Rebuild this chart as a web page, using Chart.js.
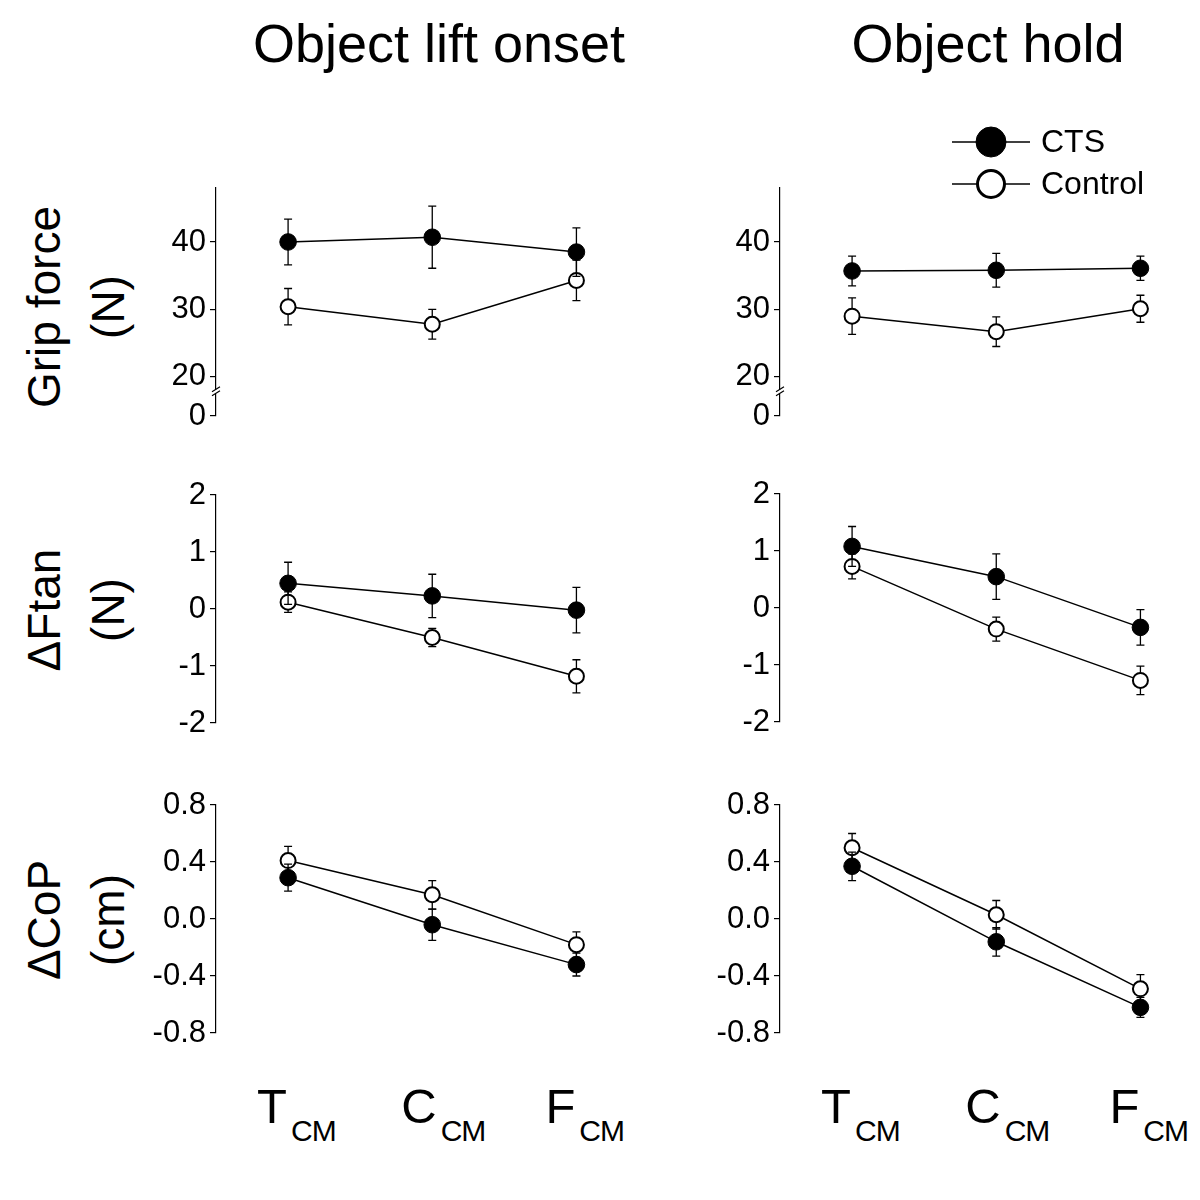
<!DOCTYPE html>
<html>
<head>
<meta charset="utf-8">
<script src="https://cdn.jsdelivr.net/npm/chart.js@4.4.1/dist/chart.umd.min.js"></script>
<style>
  html, body { margin: 0; background: #fff; overflow: hidden; }
  #wrap { position: relative; width: 1200px; height: 1200px; overflow: hidden; font-family: "Liberation Sans", Arial, sans-serif; color: #000; }
  canvas { position: absolute; }
  .title { position: absolute; top: 16px; font-size: 54px; line-height: 1; white-space: nowrap; transform: translateX(-50%); }
  .ylab { position: absolute; font-size: 46px; line-height: 64px; text-align: center; white-space: nowrap;
          transform: translate(-50%, -50%) rotate(-90deg); }
  .xlab { position: absolute; top: 1078px; white-space: nowrap; }
  .xlab .big { font-size: 49px; }
  .xlab .sub { font-size: 30px; margin-left: 4px; position: relative; top: 18px; letter-spacing: -1px; }
</style>
</head>
<body>
<div id="wrap">
  <div class="title" style="left:439px">Object lift onset</div>
  <div class="title" style="left:988px">Object hold</div>
  <div class="ylab" style="left:76px; top:307px">Grip force<br>(N)</div>
  <div class="ylab" style="left:76px; top:610px">ΔFtan<br>(N)</div>
  <div class="ylab" style="left:76px; top:920px">ΔCoP<br>(cm)</div>
  <canvas id="c1" width="510" height="284" style="left:126px; top:160px"></canvas>
  <canvas id="c2" width="510" height="334" style="left:690px; top:110px"></canvas>
  <canvas id="c3" width="510" height="284" style="left:126px; top:467px"></canvas>
  <canvas id="c4" width="510" height="284" style="left:690px; top:466px"></canvas>
  <canvas id="c5" width="510" height="284" style="left:126px; top:777px"></canvas>
  <canvas id="c6" width="510" height="284" style="left:690px; top:777px"></canvas>
</div>
<script>
// categories (CM = centre of mass location)
const categories = ['T', 'C', 'F'];
const catSub = 'CM';
const seriesNames = ['CTS', 'Control'];

// grip force (N)
const gripLiftCTS = [40.0, 40.7, 38.5];
const gripLiftCTSErr = [3.4, 4.6, 3.6];
const gripLiftCtrl = [30.4, 27.8, 34.3];
const gripLiftCtrlErr = [2.7, 2.2, 3.0];
const gripHoldCTS = [35.7, 35.8, 36.1];
const gripHoldCTSErr = [2.2, 2.5, 1.8];
const gripHoldCtrl = [29.0, 26.7, 30.1];
const gripHoldCtrlErr = [2.7, 2.2, 2.0];

// tangential force difference (N)
const ftanLiftCTS = [0.45, 0.23, -0.02];
const ftanLiftCTSErr = [0.37, 0.38, 0.40];
const ftanLiftCtrl = [0.12, -0.50, -1.18];
const ftanLiftCtrlErr = [0.18, 0.16, 0.29];
const ftanHoldCTS = [1.08, 0.55, -0.34];
const ftanHoldCTSErr = [0.35, 0.40, 0.31];
const ftanHoldCtrl = [0.73, -0.37, -1.27];
const ftanHoldCtrlErr = [0.22, 0.21, 0.25];

// centre of pressure difference (cm)
const copLiftCTS = [0.29, -0.04, -0.32];
const copLiftCTSErr = [0.095, 0.11, 0.08];
const copLiftCtrl = [0.41, 0.17, -0.18];
const copLiftCtrlErr = [0.10, 0.10, 0.09];
const copHoldCTS = [0.37, -0.16, -0.62];
const copHoldCTSErr = [0.10, 0.10, 0.07];
const copHoldCtrl = [0.50, 0.03, -0.49];
const copHoldCtrlErr = [0.10, 0.10, 0.10];

// y axis ticks
const gripTicks = [14.2, 20, 30, 40];
const gripTickLabels = ['0', '20', '30', '40'];
const gripRange = [14.2, 48];
const gripBreak = 17.8;
const ftanTicks = [-2, -1, 0, 1, 2];
const ftanTickLabels = ['-2', '-1', '0', '1', '2'];
const ftanRange = [-2, 2];
const copTicks = [-0.8, -0.4, 0, 0.4, 0.8];
const copTickLabels = ['-0.8', '-0.4', '0.0', '0.4', '0.8'];
const copRange = [-0.8, 0.8];

Chart.defaults.font.family = '"Liberation Sans", Arial, sans-serif';
Chart.defaults.color = '#000';

// error bars, drawn just before each dataset so markers sit on top
const errorBars = {
    id: 'errorBars',
    beforeDatasetDraw(chart, args) {
        const ds = chart.data.datasets[args.index];
        if (!ds.errors) return;
        const y = chart.scales.y;
        const ctx = chart.ctx;
        ctx.save();
        ctx.strokeStyle = '#000';
        ctx.lineWidth = 1.3;
        args.meta.data.forEach((pt, i) => {
            const v = ds.data[i].y, e = ds.errors[i];
            const top = y.getPixelForValue(v + e), bot = y.getPixelForValue(v - e);
            ctx.beginPath();
            ctx.moveTo(pt.x, top); ctx.lineTo(pt.x, bot);
            ctx.moveTo(pt.x - 4, top); ctx.lineTo(pt.x + 4, top);
            ctx.moveTo(pt.x - 4, bot); ctx.lineTo(pt.x + 4, bot);
            ctx.stroke();
        });
        ctx.restore();
    }
};

// axis break marks for the grip force panels
const axisBreak = {
    id: 'axisBreak',
    afterDraw(chart, args, opts) {
        if (opts.at === undefined) return;
        const ctx = chart.ctx;
        const x = chart.chartArea.left;
        const yb = chart.scales.y.getPixelForValue(opts.at);
        ctx.save();
        ctx.fillStyle = '#fff';
        ctx.fillRect(x - 2, yb - 2, 4, 4);
        ctx.strokeStyle = '#000';
        ctx.lineWidth = 1.2;
        ctx.beginPath();
        ctx.moveTo(x - 4, yb); ctx.lineTo(x + 4, yb - 5);
        ctx.moveTo(x - 4, yb + 4); ctx.lineTo(x + 4, yb - 1);
        ctx.stroke();
        ctx.restore();
    }
};

// line-through-marker legend in the top right panel
const markerLegend = {
    id: 'markerLegend',
    afterDraw(chart, args, opts) {
        if (!opts.show) return;
        const ctx = chart.ctx;
        ctx.save();
        chart.data.datasets.forEach((ds, i) => {
            const y = 32 + i * 42;
            ctx.strokeStyle = '#000';
            ctx.lineWidth = 1.5;
            ctx.beginPath();
            ctx.moveTo(262, y); ctx.lineTo(340, y);
            ctx.stroke();
            ctx.beginPath();
            ctx.arc(301, y, i === 0 ? 15 : 13.5, 0, Math.PI * 2);
            ctx.fillStyle = ds.pointBackgroundColor;
            ctx.fill();
            ctx.lineWidth = i === 0 ? 1 : 3;
            ctx.stroke();
            ctx.fillStyle = '#000';
            ctx.font = '32px "Liberation Sans", Arial, sans-serif';
            ctx.textBaseline = 'middle';
            ctx.fillText(ds.label, 351, y + 1);
        });
        ctx.restore();
    }
};

function toPoints(arr) {
    return arr.map((v, i) => ({ x: i + 1, y: v }));
}

function makePanel(id, cts, ctsErr, ctrl, ctrlErr, ticks, tickLabels, range, extra) {
    extra = extra || {};
    return new Chart(document.getElementById(id), {
        type: 'line',
        data: {
            datasets: [{
                label: seriesNames[0],
                data: toPoints(cts),
                errors: ctsErr,
                borderColor: '#000',
                borderWidth: 1.5,
                pointRadius: 8.3,
                pointBackgroundColor: '#000',
                pointBorderColor: '#000',
                pointBorderWidth: 1
            }, {
                label: seriesNames[1],
                data: toPoints(ctrl),
                errors: ctrlErr,
                borderColor: '#000',
                borderWidth: 1.5,
                pointRadius: 7.5,
                pointBackgroundColor: '#fff',
                pointBorderColor: '#000',
                pointBorderWidth: 2
            }]
        },
        options: {
            responsive: false,
            animation: false,
            layout: { padding: { top: extra.top || 28, bottom: 28, left: 0, right: 12 } },
            plugins: {
                legend: { display: false },
                tooltip: { enabled: false },
                axisBreak: { at: extra.breakAt },
                markerLegend: { show: !!extra.legend }
            },
            scales: {
                x: { type: 'linear', min: 0.5, max: 3.33, display: false },
                y: {
                    min: range[0],
                    max: range[1],
                    afterBuildTicks: scale => { scale.ticks = ticks.map(v => ({ value: v })); },
                    afterFit: scale => { scale.width = 90; },
                    ticks: {
                        font: { size: 31 },
                        padding: 4,
                        callback: (value, index) => tickLabels[index]
                    },
                    grid: { drawOnChartArea: false, drawTicks: true, tickLength: 6, color: '#000', lineWidth: 1.2 },
                    border: { display: true, color: '#000', width: 1.2 }
                }
            }
        },
        plugins: [errorBars, axisBreak, markerLegend]
    });
}

makePanel('c1', gripLiftCTS, gripLiftCTSErr, gripLiftCtrl, gripLiftCtrlErr, gripTicks, gripTickLabels, gripRange, { breakAt: gripBreak });
makePanel('c2', gripHoldCTS, gripHoldCTSErr, gripHoldCtrl, gripHoldCtrlErr, gripTicks, gripTickLabels, gripRange, { breakAt: gripBreak, top: 78, legend: true });
makePanel('c3', ftanLiftCTS, ftanLiftCTSErr, ftanLiftCtrl, ftanLiftCtrlErr, ftanTicks, ftanTickLabels, ftanRange);
makePanel('c4', ftanHoldCTS, ftanHoldCTSErr, ftanHoldCtrl, ftanHoldCtrlErr, ftanTicks, ftanTickLabels, ftanRange);
const bottomLeft = makePanel('c5', copLiftCTS, copLiftCTSErr, copLiftCtrl, copLiftCtrlErr, copTicks, copTickLabels, copRange);
const bottomRight = makePanel('c6', copHoldCTS, copHoldCTSErr, copHoldCtrl, copHoldCtrlErr, copTicks, copTickLabels, copRange);

// category labels with subscripts under the bottom panels
const wrap = document.getElementById('wrap');
[[bottomLeft, 126], [bottomRight, 690]].forEach(([chart, offset]) => {
    categories.forEach((cat, i) => {
        const px = chart.scales.x.getPixelForValue(i + 1) + offset;
        const el = document.createElement('div');
        el.className = 'xlab';
        el.style.left = (px - 31) + 'px';
        el.innerHTML = '<span class="big">' + cat + '</span><span class="sub">' + catSub + '</span>';
        wrap.appendChild(el);
    });
});
</script>
</body>
</html>
